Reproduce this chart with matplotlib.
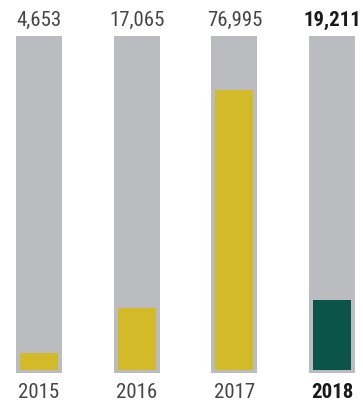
import matplotlib
matplotlib.use("Agg")
import matplotlib.pyplot as plt
from matplotlib import font_manager

years = ["2015", "2016", "2017", "2018"]
values = [4653, 17065, 76995, 19211]
value_labels = ["4,653", "17,065", "76,995", "19,211"]
bar_colors = ["#D3BA29", "#D3BA29", "#D3BA29", "#0B5449"]
highlight = [False, False, False, True]

names = {f.name for f in font_manager.fontManager.ttflist}
fam = "DejaVu Sans"
for cand in ["Liberation Sans Narrow", "Roboto Condensed", "DejaVu Sans Condensed", "Roboto"]:
    if cand in names:
        fam = cand
        break

fig = plt.figure(figsize=(3.63, 4.06), dpi=100)
ax = fig.add_axes([0, 0, 1, 1])
ax.set_xlim(-0.399, 3.317)
ax.set_ylim(-9625, 102025)
ax.axis("off")

x = list(range(len(years)))
gray_top = 91850
pad = 825
ax.bar(x, [gray_top + pad] * len(x), bottom=-pad, width=0.471, color="#BBBCC0", linewidth=0)
ax.bar(x, values, width=0.389, color=bar_colors, linewidth=0)

for i in x:
    w = "bold" if highlight[i] else "normal"
    c = "#1a1a1a" if highlight[i] else "#454545"
    ax.text(i, 96500, value_labels[i], ha="center", va="center", fontsize=15,
            family=fam, weight=w, color=c)
    ax.text(i, -5800, years[i], ha="center", va="center", fontsize=15,
            family=fam, weight=w, color=c)

fig.savefig("out.png", dpi=100)
